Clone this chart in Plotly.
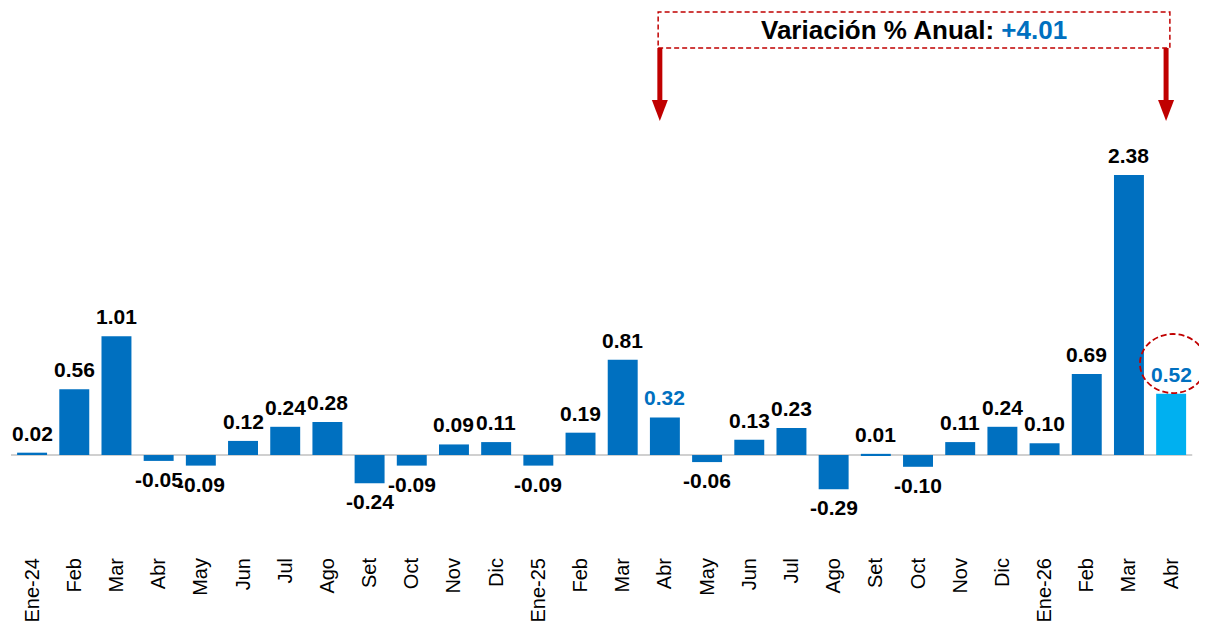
# Variación mensual del índice, Ene-24 a Abr-26
import plotly.graph_objects as go

meses = ["Ene-24", "Feb", "Mar", "Abr", "May", "Jun", "Jul", "Ago", "Set", "Oct",
         "Nov", "Dic", "Ene-25", "Feb", "Mar", "Abr", "May", "Jun", "Jul", "Ago",
         "Set", "Oct", "Nov", "Dic", "Ene-26", "Feb", "Mar", "Abr"]
variacion = [0.02, 0.56, 1.01, -0.05, -0.09, 0.12, 0.24, 0.28, -0.24, -0.09,
             0.09, 0.11, -0.09, 0.19, 0.81, 0.32, -0.06, 0.13, 0.23, -0.29,
             0.01, -0.10, 0.11, 0.24, 0.10, 0.69, 2.38, 0.52]
variacion_anual = 4.01
idx_base = 15   # Abr-25
idx_ult = 27    # Abr-26

AZUL = "#0070C0"
CELESTE = "#00B0F0"
ROJO = "#C00000"
FONT = "Liberation Sans, Arial, sans-serif"

# la página deja 8 px de margen al body: la figura se dibuja 8 px más adentro
ALTO_PLOT = 537


def py(ypx):
    """posición vertical (px de pantalla) -> coordenada paper"""
    return (545 - ypx) / ALTO_PLOT


x = list(range(len(meses)))
colores = [CELESTE if i == idx_ult else AZUL for i in x]

fig = go.Figure()
fig.add_trace(go.Bar(x=x, y=variacion, marker_color=colores, width=0.71,
                     marker_line_width=0, hoverinfo="skip"))

# etiquetas de datos
for i, v in enumerate(variacion):
    col = AZUL if i in (idx_base, idx_ult) else "black"
    fig.add_annotation(
        x=i, y=v, text=f"<b>{v:.2f}</b>", showarrow=False,
        font=dict(family=FONT, size=21, color=col),
        xanchor="center",
        yanchor="bottom" if v >= 0 else "top",
        yshift=6 if v >= 0 else -5,
    )

# línea de cero
fig.add_shape(type="line", xref="x", yref="y", x0=-0.5, x1=27.5, y0=0, y1=0,
              line=dict(color="#D0D0D0", width=2), layer="below")

# recuadro de variación anual
fig.add_shape(type="rect", xref="x", yref="paper", x0=14.84, x1=26.97,
              y0=py(48), y1=py(12),
              line=dict(color=ROJO, width=1.5, dash="5px,3px"))
fig.add_annotation(
    xref="x", yref="paper", x=(14.84 + 26.97) / 2, y=py(30),
    xanchor="center", yanchor="middle",
    text=f"<b>Variación % Anual: <span style='color:{AZUL}'>+{variacion_anual:.2f}</span></b>",
    showarrow=False, font=dict(family=FONT, size=26, color="black"),
)

# flechas
for xc in (idx_base - 0.12, idx_ult - 0.12):
    fig.add_shape(type="line", xref="x", yref="paper", x0=xc, x1=xc,
                  y0=py(48), y1=py(102),
                  line=dict(color=ROJO, width=5))
    hw = 8 / 42.19
    fig.add_shape(type="path", xref="x", yref="paper",
                  path=f"M {xc - hw} {py(100)} L {xc + hw} {py(100)} L {xc} {py(121)} Z",
                  fillcolor=ROJO, line=dict(color=ROJO, width=0))

# elipse sobre el último dato
fig.add_shape(type="circle", xref="x", yref="y", x0=26.26, x1=27.83, y0=0.527, y1=1.029,
              line=dict(color=ROJO, width=1.8, dash="6px,3px"))

fig.update_layout(
    width=1199, height=615,
    margin=dict(l=3, r=0, t=0, b=78),
    plot_bgcolor="white", paper_bgcolor="white",
    showlegend=False, bargap=0.29,
    font=dict(family=FONT, color="black"),
    xaxis=dict(range=[-0.5, 27.85], tickmode="array", tickvals=x, ticktext=meses,
               tickangle=-90, tickfont=dict(family=FONT, size=20, color="black"),
               ticklabelstandoff=8,
               showgrid=False, zeroline=False, showline=False, ticks=""),
    yaxis=dict(range=[-0.765, 3.801], visible=False, showgrid=False, zeroline=False),
)

fig.write_html("out.html")
